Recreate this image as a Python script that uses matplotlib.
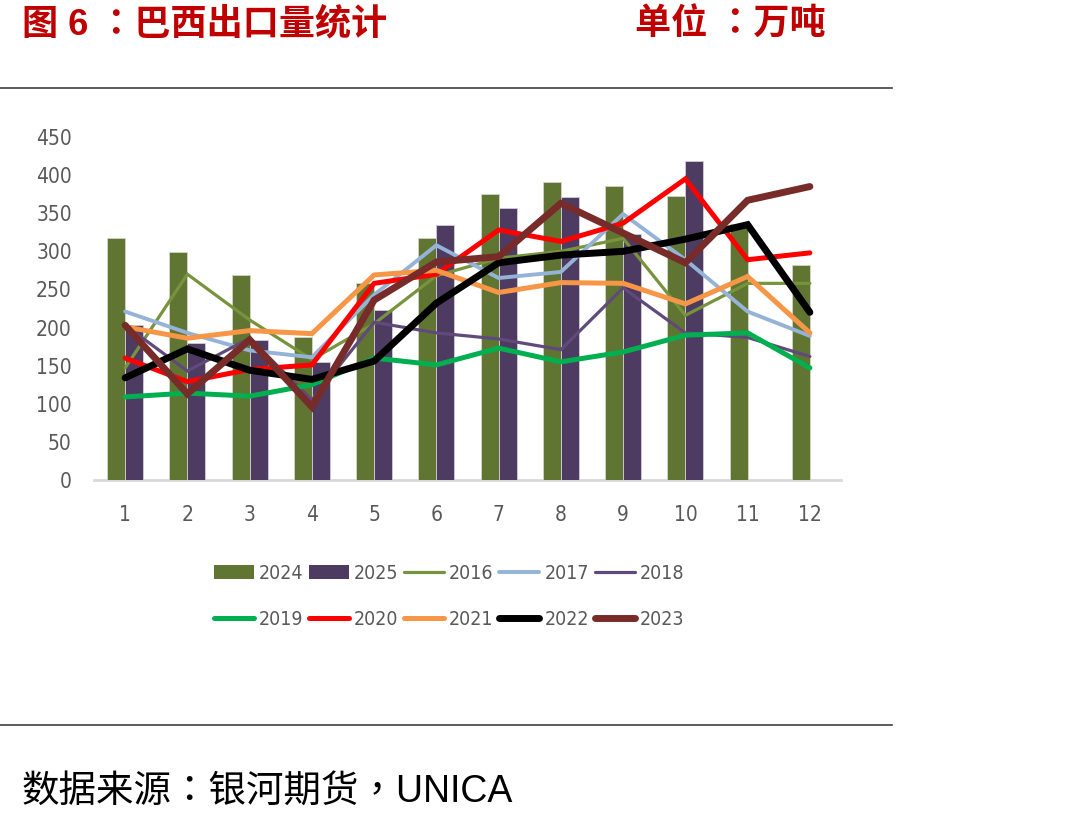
import os
import matplotlib
matplotlib.use("Agg")
import matplotlib.pyplot as plt
from matplotlib import font_manager
from matplotlib.font_manager import FontProperties
from matplotlib.patches import Patch
from matplotlib.lines import Line2D
import numpy as np

months = [1, 2, 3, 4, 5, 6, 7, 8, 9, 10, 11, 12]
bar_2024 = [318, 299, 269, 188, 258, 318, 375, 391, 386, 372, 336, 282]
bar_2025 = [204, 180, 184, 155, 223, 334, 357, 371, 323, 418, None, None]

y2016 = [147, 270, 210, 158, 205, 268, 291, 300, 317, 216, 258, 258]
y2017 = [221, 193, 170, 161, 243, 308, 265, 273, 349, 289, 221, 189]
y2018 = [203, 143, 186, 105, 207, 193, 185, 171, 252, 193, 187, 162]
y2019 = [109, 114, 110, 125, 160, 151, 173, 155, 168, 190, 193, 147]
y2020 = [160, 129, 145, 151, 258, 270, 328, 313, 337, 395, 289, 298]
y2021 = [201, 186, 196, 192, 269, 275, 246, 259, 258, 231, 267, 193]
y2022 = [134, 172, 144, 132, 156, 232, 285, 295, 300, 316, 335, 220]
y2023 = [203, 113, 184, 96, 236, 286, 293, 363, 324, 285, 367, 385]

yticks = [0, 50, 100, 150, 200, 250, 300, 350, 400, 450]


def narrow_font(size):
    files = [f.fname for f in font_manager.fontManager.ttflist]
    prefs = ["liberationsansnarrow-regular", "notosans-condensed.", "dejavusanscondensed.",
             "roboto-condensed", "robotocondensed-regular", "opensans-condensed"]
    for p in prefs:
        for fn in files:
            if os.path.basename(fn).lower().startswith(p):
                return FontProperties(fname=fn, size=size)
    names = {f.name for f in font_manager.fontManager.ttflist}
    fam = "Lato" if "Lato" in names else "DejaVu Sans"
    return FontProperties(family=fam, size=size)


tick_fp = narrow_font(15)
cjk_fam = ["Liberation Sans", "Noto Sans CJK TC", "DejaVu Sans"]

fig = plt.figure(figsize=(10.86, 8.25), dpi=100)
ax = fig.add_axes([94 / 1086, 1 - 480 / 825, (841 - 94) / 1086, (480 - 137) / 825])

x = np.array(months, dtype=float)
w = 0.29
olive = "#617532"
purple = "#4E3B62"
b24 = np.array([np.nan if v is None else v for v in bar_2024], dtype=float)
b25 = np.array([np.nan if v is None else v for v in bar_2025], dtype=float)
ax.bar(x - w / 2, b24, width=w, color=olive, edgecolor="#D2D5CA", linewidth=0.6, zorder=2)
ax.bar(x + w / 2, b25, width=w, color=purple, edgecolor="#D2CDD8", linewidth=0.6, zorder=2)

series = [
    ("2016", y2016, "#77933C", 2.3),
    ("2017", y2017, "#95B3D7", 2.8),
    ("2018", y2018, "#604A7B", 2.3),
    ("2019", y2019, "#00B050", 3.6),
    ("2020", y2020, "#FF0000", 3.6),
    ("2021", y2021, "#F79646", 3.6),
    ("2022", y2022, "#000000", 5.0),
    ("2023", y2023, "#772C2A", 5.0),
]
for i, (name, vals, col, lw) in enumerate(series):
    ax.plot(x, vals, color=col, lw=lw, zorder=3 + i, solid_capstyle="round", solid_joinstyle="miter")

ax.set_xlim(0.5, 12.5)
ax.set_ylim(0, 450)
ax.set_yticks(yticks)
ax.set_xticks(months)
ax.set_xticklabels([str(m) for m in months])
for s in ["top", "right", "left"]:
    ax.spines[s].set_visible(False)
ax.spines["bottom"].set_color("#D9D9D9")
ax.spines["bottom"].set_linewidth(2)
ax.spines["bottom"].set_zorder(1)
ax.tick_params(axis="y", length=0, pad=16, labelcolor="#595959")
ax.tick_params(axis="x", length=0, pad=18, labelcolor="#595959")
for lab in ax.get_xticklabels() + ax.get_yticklabels():
    lab.set_fontproperties(tick_fp)

# legend
h = {
    "2024": Patch(facecolor=olive, edgecolor="none"),
    "2025": Patch(facecolor=purple, edgecolor="none"),
}
for name, vals, col, lw in series:
    h[name] = Line2D([0], [0], color=col, lw=lw, solid_capstyle="round")
order = ["2024", "2019", "2025", "2020", "2016", "2021", "2017", "2022", "2018", "2023"]
leg = fig.legend([h[k] for k in order], order, loc="center", bbox_to_anchor=(449 / 1086, 1 - 596.5 / 825),
                 ncol=5, frameon=False, handlelength=2.05, handleheight=0.68, handletextpad=0.26,
                 columnspacing=0.3, labelspacing=1.4, prop=narrow_font(14))
for t in leg.get_texts():
    t.set_color("#595959")

# header / footer
red = "#C00000"
fig.text(22 / 1086, 1 - 25 / 825, "图 6 ：巴西出口量统计", color=red, fontsize=26, fontweight="bold",
         family=cjk_fam, ha="left", va="center")
fig.text(635 / 1086, 1 - 25 / 825, "单位 ：万吨", color=red, fontsize=26, fontweight="bold",
         family=cjk_fam, ha="left", va="center")
fig.add_artist(Line2D([0, 892 / 1086], [1 - 88 / 825, 1 - 88 / 825], color="#404040", lw=1.2))
fig.add_artist(Line2D([0, 892 / 1086], [1 - 725 / 825, 1 - 725 / 825], color="#404040", lw=1.2))
fig.text(22 / 1086, 1 - 793 / 825, "数据来源：银河期货，UNICA", color="black", fontsize=27,
         family=cjk_fam, ha="left", va="center")

fig.savefig("out.png", dpi=100)
